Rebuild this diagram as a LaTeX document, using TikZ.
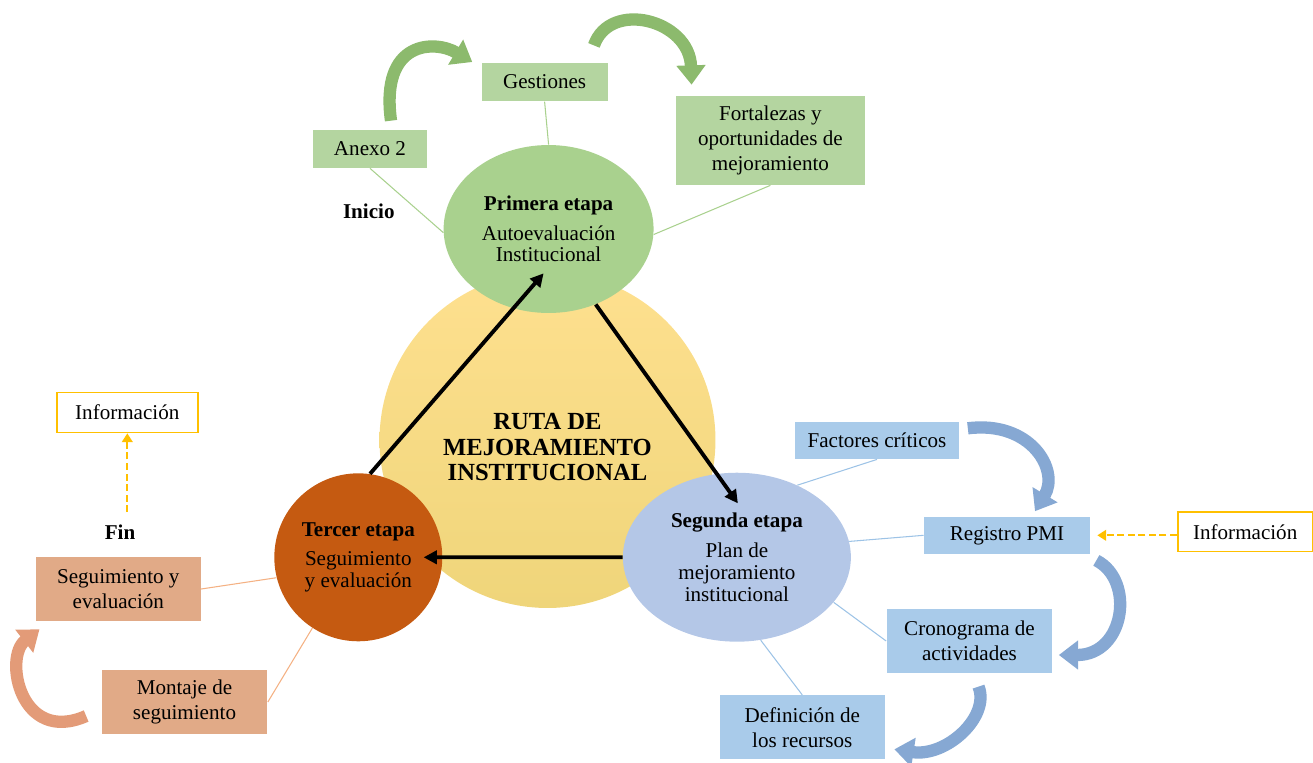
\documentclass[tikz,border=0pt]{standalone}
\usepackage{fontspec}
\setmainfont{Liberation Serif}
\usetikzlibrary{arrows.meta,calc,shapes.geometric}
\definecolor{gfill}{HTML}{A9D18E}
\definecolor{gbox}{HTML}{B4D5A0}
\definecolor{gline}{HTML}{A9D18E}
\definecolor{garrow}{HTML}{8CBA6D}
\definecolor{bfill}{HTML}{B4C7E7}
\definecolor{bbox}{HTML}{A9CBEA}
\definecolor{bline}{HTML}{9DC3E6}
\definecolor{barrow}{HTML}{86A8D3}
\definecolor{ofill}{HTML}{C55A11}
\definecolor{obox}{HTML}{E1AA87}
\definecolor{oline}{HTML}{F4B183}
\definecolor{oarrow}{HTML}{E39B78}
\definecolor{ytop}{HTML}{FEE08F}
\definecolor{ybot}{HTML}{EFD57A}
\definecolor{infoc}{HTML}{FFC000}
\tikzset{
  blk/.style={rectangle, fill=#1, align=center, inner sep=2pt, font=\fontsize{12}{14.2}\selectfont},
  stage/.style={ellipse, fill=#1, align=center, inner sep=1pt, font=\fontsize{12}{12.4}\selectfont},
  infobox/.style={draw=infoc, line width=0.9pt, fill=white, minimum width=#1, minimum height=0.8cm, font=\fontsize{12}{14.2}\selectfont},
  tag/.style={font=\bfseries\fontsize{12}{14}\selectfont},
  arr/.style={-{Triangle[width=7.5pt,length=7.5pt]}, line width=2.2pt},
  lnk/.style={draw=#1, line width=0.6pt},
  curv/.style={-{Triangle[width=16pt,length=11pt]}, line width=7pt, draw=#1},
  dsh/.style={-{Triangle[width=6pt,length=5pt]}, draw=infoc, line width=1.2pt, dash pattern=on 4pt off 2pt},
}

\begin{document}
\begin{tikzpicture}[x=0.02cm, y=-0.02cm]
  \useasboundingbox (0,0) rectangle (1313,762);
  % centre and the three stages
  \node[circle, top color=ytop, bottom color=ybot, minimum size=6.72cm] (ruta) at (547.5,440) {};
  \node[align=center, font=\bfseries\fontsize{14}{14.6}\selectfont] (rutatxt) at ($(ruta.center)+(0,7)$)
        {RUTA DE\\MEJORAMIENTO\\INSTITUCIONAL};
  \node[stage=gfill, minimum width=4.2cm, minimum height=3.36cm] (primera) at (548.6,229)
        {\textbf{Primera etapa}\\[4.5pt]Autoevaluación\\Institucional};
  \node[stage=bfill, minimum width=4.56cm, minimum height=3.38cm] (segunda) at (736.9,557.2)
        {\textbf{Segunda etapa}\\[4.5pt]Plan de\\mejoramiento\\institucional};
  \node[stage=ofill, circle, minimum size=3.36cm] (tercer) at (358.3,557.3)
        {\textbf{Tercer etapa}\\[4.5pt]Seguimiento\\y evaluación};

  % first stage
  \node[blk=gbox, minimum width=2.52cm, minimum height=0.77cm] (gest) at (544.6,82) {Gestiones};
  \node[blk=gbox, minimum width=2.28cm, minimum height=0.76cm] (anexo) at (370,149) {Anexo 2};
  \node[blk=gbox, minimum width=3.78cm, minimum height=1.78cm] (fort) at (770.4,140.5) {Fortalezas y\\oportunidades de\\mejoramiento};
  \node[tag] (inicio) at (368.8,211.7) {Inicio};

  % second stage
  \node[blk=bbox, minimum width=3.3cm, minimum height=0.75cm] (fact) at (877,440.3) {Factores críticos};
  \node[blk=bbox, minimum width=3.32cm, minimum height=0.75cm] (reg) at (1007,535.3) {Registro PMI};
  \node[blk=bbox, minimum width=3.32cm, minimum height=1.29cm] (cron) at (969.5,641) {Cronograma de\\actividades};
  \node[blk=bbox, minimum width=3.31cm, minimum height=1.28cm] (defi) at (802.3,727.3) {Definición de\\los recursos};
  \node[infobox=2.7cm] (infoR) at (1245.2,531.7) {Información};

  % third stage
  \node[infobox=2.82cm] (infoL) at (127.3,412.5) {Información};
  \node[tag] (fin) at (120,531.7) {Fin};
  \node[blk=obox, minimum width=3.3cm, minimum height=1.28cm] (segb) at (118.3,589) {Seguimiento y\\evaluación};
  \node[blk=obox, minimum width=3.32cm, minimum height=1.28cm] (mont) at (184.5,702) {Montaje de\\seguimiento};

  % thin links
  \draw[lnk=gline] (gest.south) -- (primera.north);
  \draw[lnk=gline] (anexo.south) -- (primera.182);
  \draw[lnk=gline] (fort.south) -- (primera.-3);
  \draw[lnk=bline] (fact.south) -- (segunda.50);
  \draw[lnk=bline] (reg.west) -- (segunda.8);
  \draw[lnk=bline] (cron.west) -- (segunda.-25);
  \draw[lnk=bline] (defi.north) -- (segunda.-74);
  \draw[lnk=oline] (segb.east) -- (tercer.194);
  \draw[lnk=oline] (mont.east) -- (tercer.237);

  % cycle
  \draw[arr] (tercer.82) -- ($(primera.south)+(-5,-40)$);
  \draw[arr] (primera.-58) -- ($(segunda.north)+(1,31)$);
  \draw[arr] (segunda.west) -- ($(tercer.east)+(-19,0)$);

  % curved arrows
  \draw[curv=garrow] ($(anexo.north)+(21,-9)$) .. controls +(-11,-81) and +(-37,-22) .. ($(gest.west)+(-9,-20)$);
  \draw[curv=garrow] ($(gest.north east)+(-14,-17)$) .. controls +(16,-46) and +(-2,-65) .. ($(fort.north west)+(16,-11)$);
  \draw[curv=barrow] ($(fact.east)+(8,-12)$) .. controls +(63,-8) and +(25,-41) .. ($(reg.north)+(28,-5)$);
  \draw[curv=barrow] ($(reg.south east)+(6,6)$) .. controls +(39,20) and +(66,0) .. ($(cron.east)+(6,14)$);
  \draw[curv=barrow] ($(cron.south)+(9,13)$) .. controls +(12,30) and +(52,8) .. ($(defi.east)+(9,22)$);
  \draw[curv=oarrow] ($(mont.west)+(-15,14)$) .. controls +(-66,29) and +(-36,28) .. ($(segb.south west)+(4,8)$);

  % information
  \draw[dsh] ($(infoL.south |- fin.north)+(0,-6)$) -- (infoL.south);
  \draw[dsh] (infoR.west |- reg.east) -- ($(reg.east)+(7,0)$);
\end{tikzpicture}
\end{document}
